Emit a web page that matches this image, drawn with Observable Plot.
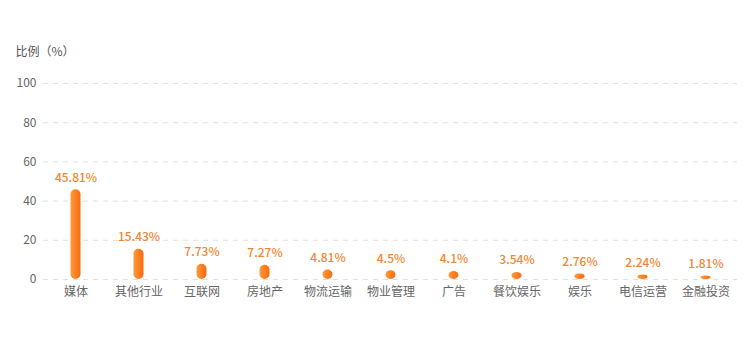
<!DOCTYPE html>
<html><head><meta charset="utf-8">
<script src="https://cdn.jsdelivr.net/npm/d3@7"></script>
<script src="https://cdn.jsdelivr.net/npm/@observablehq/plot@0.6"></script>
<style>
html,body{margin:0;padding:0;background:#fff;}
#chart{width:752px;height:351px;}
</style></head>
<body><div id="chart"></div>
<script>
const categories = ["媒体","其他行业","互联网","房地产","物流运输","物业管理","广告","餐饮娱乐","娱乐","电信运营","金融投资"];
const values = [45.81, 15.43, 7.73, 7.27, 4.81, 4.5, 4.1, 3.54, 2.76, 2.24, 1.81];
const valueLabels = ["45.81%","15.43%","7.73%","7.27%","4.81%","4.5%","4.1%","3.54%","2.76%","2.24%","1.81%"];
const yTicks = [0, 20, 40, 60, 80, 100];
const yTitle = "比例（%）";

const data = categories.map((c, i) => ({cat: c, value: values[i], label: valueLabels[i]}));
const font = "'Noto Sans CJK SC', 'Noto Sans', sans-serif";

const chart = Plot.plot({
  width: 752,
  height: 351,
  marginLeft: 43,
  marginRight: 15,
  marginTop: 83,
  marginBottom: 72,
  style: {fontFamily: font, fontSize: "12px", color: "#666", background: "#fff"},
  x: {domain: categories, padding: 0, label: null, tickSize: 0, tickPadding: 8},
  y: {domain: [0, 100], ticks: yTicks, label: null, tickSize: 0, tickPadding: 7},
  marks: [
    Plot.ruleY(yTicks, {stroke: "#e0e0e0", strokeDasharray: "5,5"}),
    Plot.barY(data, {x: "cat", y: "value", fill: "url(#barGrad)", rx: 5, insetLeft: 26.5, insetRight: 26.5}),
    Plot.text(data, {x: "cat", y: "value", text: "label", dy: -12, fill: "#f5842e", fontSize: 12, fontWeight: 500}),
    Plot.text([yTitle], {frameAnchor: "top-left", text: d => d, dx: -28, dy: -36, textAnchor: "start", fill: "#555", fontSize: 12})
  ]
});

const svgNS = "http://www.w3.org/2000/svg";
const defs = document.createElementNS(svgNS, "defs");
defs.innerHTML = '<linearGradient id="barGrad" x1="0" y1="0" x2="1" y2="0">' +
  '<stop offset="0%" stop-color="#ff9a3a"/><stop offset="100%" stop-color="#f96a10"/></linearGradient>';
chart.insertBefore(defs, chart.firstChild);
document.getElementById("chart").appendChild(chart);
</script>
</body></html>
